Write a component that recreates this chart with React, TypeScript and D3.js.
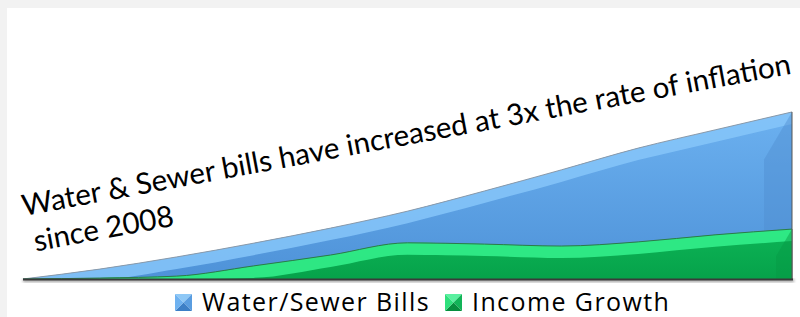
import * as d3 from "d3";

const years = [2008, 2009, 2010, 2011, 2012, 2013, 2014, 2015, 2016, 2017, 2018];
const waterSewer = [0, 3.1, 6.9, 11.2, 15.9, 21.2, 27.5, 34.1, 40.9, 46.6, 52.2];
const incomeGrowth = [0, 0.3, 0.9, 4.1, 7.5, 11.3, 10.9, 10.3, 11.6, 13.8, 15.6];
const legendLabels = ["Water/Sewer Bills", "Income Growth"];
const titleLines = ["Water & Sewer bills have increased at 3x the rate of inflation", "since 2008"];

export default function App() {
  const width = 800;
  const height = 317;
  const left = 23;
  const right = 792;
  const base = 279;

  const x = d3.scaleLinear().domain([years[0], years[years.length - 1]]).range([left, right]);
  const y = d3.scaleLinear().domain([0, 60]).range([base, 87]);

  const area = (vals: number[]) =>
    d3
      .area<number>()
      .x((_, i) => x(years[i]))
      .y0(base)
      .y1((d) => y(d))
      .curve(d3.curveMonotoneX)(vals) || "";

  // lighter bevel band just under the top edge
  const band = (vals: number[], px: number) =>
    d3
      .area<number>()
      .x((_, i) => x(years[i]))
      .y0((d) => Math.min(base, y(d) + px))
      .y1((d) => y(d))
      .curve(d3.curveMonotoneX)(vals) || "";

  const topLine = (vals: number[]) =>
    d3
      .line<number>()
      .x((_, i) => x(years[i]))
      .y((d) => y(d))
      .curve(d3.curveMonotoneX)(vals) || "";

  const sideBevel = (v: number, w: number) => {
    const yt = y(v);
    return `M${right},${yt} L${right - w},${yt + w * 1.7} L${right - w},${base} L${right},${base} Z`;
  };

  const series = [
    { vals: waterSewer, grad: "gBlue", band: "#86c5f9", side: "#4f8fd0", edge: "#8a9aaa", bw: 12, sw: 28 },
    { vals: incomeGrowth, grad: "gGreen", band: "#35f28d", side: "#079a45", edge: "#2c7a4a", bw: 12, sw: 16 },
  ];

  const legendX = [175, 445];
  const legendFills = [
    ["#3d7fc6", "#6fb2f0", "#5a9de0", "#8ec8f6"],
    ["#078e3e", "#2fe07c", "#12b458", "#5af0a0"],
  ];

  return (
    <svg
      width={width}
      height={height}
      style={{ position: "absolute", left: 0, top: 0, display: "block" }}
    >
      <defs>
        <linearGradient id="gBlue" gradientUnits="userSpaceOnUse" x1="0" y1="110" x2="0" y2={base}>
          <stop offset="0" stopColor="#6cb1f0" />
          <stop offset="1" stopColor="#4e92d8" />
        </linearGradient>
        <linearGradient id="gGreen" gradientUnits="userSpaceOnUse" x1="0" y1="230" x2="0" y2={base}>
          <stop offset="0" stopColor="#0db456" />
          <stop offset="1" stopColor="#06a24a" />
        </linearGradient>
        <filter id="shadow" x="-5%" y="-5%" width="110%" height="130%">
          <feGaussianBlur stdDeviation="1.5" />
        </filter>
      </defs>
      <rect x={0} y={0} width={width} height={height} fill="#f2f2f2" />
      <rect x={7} y={8} width={width - 7} height={height - 8} fill="#ffffff" />

      <rect x={left} y={base} width={right - left + 2} height={3} fill="#999" filter="url(#shadow)" />

      {series.map((s, i) => (
        <g key={i}>
          <path d={area(s.vals)} fill={`url(#${s.grad})`} />
          <path d={band(s.vals, s.bw)} fill={s.band} opacity={0.85} />
          <path d={sideBevel(s.vals[s.vals.length - 1], s.sw)} fill={s.side} opacity={0.45} />
          <path d={topLine(s.vals)} fill="none" stroke={s.edge} strokeWidth={1} />
          <line
            x1={right}
            x2={right}
            y1={y(s.vals[s.vals.length - 1])}
            y2={base}
            stroke="#555"
            strokeWidth={1}
          />
        </g>
      ))}
      <line x1={left} x2={right + 1} y1={base + 0.5} y2={base + 0.5} stroke="#3a3a3a" strokeWidth={2} />

      <g
        transform={`translate(24,216) rotate(-10.5)`}
        fontFamily="Lato, 'Open Sans', sans-serif"
        fontSize={29.5}
        fill="#000"
      >
        <text x={0} y={0}>{titleLines[0]}</text>
        <text x={5} y={37}>{titleLines[1]}</text>
      </g>

      {legendLabels.map((label, i) => {
        const lx = legendX[i];
        const ly = 294;
        const s = 17;
        const c = legendFills[i];
        const cx = lx + s / 2;
        const cy = ly + s / 2;
        return (
          <g key={label}>
            <polygon points={`${lx},${ly} ${lx + s},${ly} ${cx},${cy}`} fill={c[3]} />
            <polygon points={`${lx + s},${ly} ${lx + s},${ly + s} ${cx},${cy}`} fill={c[2]} />
            <polygon points={`${lx},${ly + s} ${lx + s},${ly + s} ${cx},${cy}`} fill={c[0]} />
            <polygon points={`${lx},${ly} ${lx},${ly + s} ${cx},${cy}`} fill={c[1]} />
            <text
              x={lx + s + 10}
              y={311}
              fontFamily="'Open Sans', sans-serif"
              fontSize={25}
              letterSpacing={1.4}
              fill="#000"
            >
              {label}
            </text>
          </g>
        );
      })}
    </svg>
  );
}
